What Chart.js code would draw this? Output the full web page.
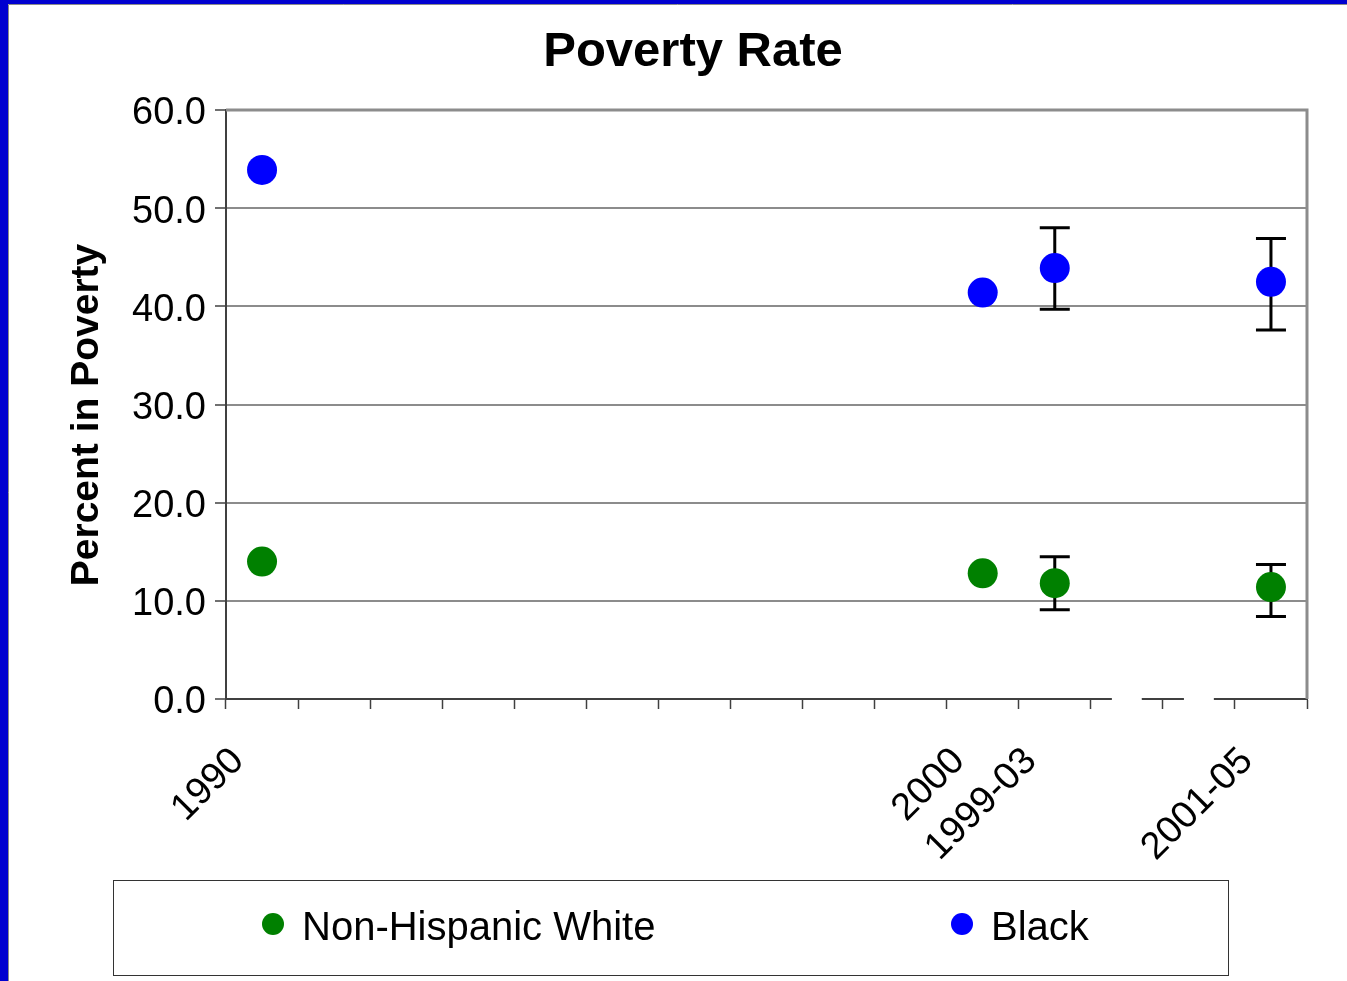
<!DOCTYPE html>
<html>
<head>
<meta charset="utf-8">
<script src="https://cdn.jsdelivr.net/npm/chart.js@4/dist/chart.umd.min.js"></script>
<style>
  html, body { margin: 0; padding: 0; background: #ffffff; overflow: hidden; }
  #wrap { position: absolute; left: 0; top: 0; width: 1347px; height: 981px; }
</style>
</head>
<body>
<div id="wrap"><canvas id="c" width="1347" height="981"></canvas></div>
<script>
// ---- Data ----
const categories = ['1990', '', '', '', '', '', '', '', '', '', '2000', '1999-03', '', '', '2001-05'];
const whiteValues = [14.0, null, null, null, null, null, null, null, null, null, 12.8, 11.8, null, null, 11.4];
const whiteHigh   = [null, null, null, null, null, null, null, null, null, null, null, 14.5, null, null, 13.7];
const whiteLow    = [null, null, null, null, null, null, null, null, null, null, null, 9.1, null, null, 8.4];
const blackValues = [53.9, null, null, null, null, null, null, null, null, null, 41.4, 43.9, null, null, 42.5];
const blackHigh   = [null, null, null, null, null, null, null, null, null, null, null, 48.0, null, null, 46.9];
const blackLow    = [null, null, null, null, null, null, null, null, null, null, null, 39.7, null, null, 37.6];
const hiddenValues = [null, null, null, null, null, null, null, null, null, null, null, null, 0, 0, null];
const yTicks = [0, 10, 20, 30, 40, 50, 60];
const seriesNames = ['Non-Hispanic White', 'Black'];
const titleText = 'Poverty Rate';
const yTitle = 'Percent in Poverty';

const FONT = "'Liberation Sans', Arial, sans-serif";

const framePlugin = {
  id: 'frame',
  beforeDraw(chart) {
    const ctx = chart.ctx;
    ctx.save();
    ctx.fillStyle = '#ffffff';
    ctx.fillRect(0, 0, chart.width, chart.height);
    ctx.fillStyle = '#0000d0';
    ctx.fillRect(0, 0, 8, chart.height);
    ctx.fillRect(0, 0, chart.width, 4);
    ctx.strokeStyle = '#8a8a8a';
    ctx.lineWidth = 1;
    ctx.beginPath();
    ctx.moveTo(8.5, chart.height); ctx.lineTo(8.5, 4.5); ctx.lineTo(chart.width, 4.5);
    ctx.stroke();
    ctx.restore();
  },
  afterDraw(chart) {
    const ctx = chart.ctx;
    const a = chart.chartArea;
    ctx.save();
    // top & right frame of plot area
    ctx.strokeStyle = '#8c8c8c';
    ctx.lineWidth = 3;
    ctx.beginPath();
    ctx.moveTo(a.right, a.bottom); ctx.lineTo(a.right, a.top); ctx.lineTo(a.left, a.top);
    ctx.stroke();
    // title
    ctx.fillStyle = '#000';
    ctx.font = "bold 49px " + FONT;
    ctx.textAlign = 'center';
    ctx.textBaseline = 'alphabetic';
    ctx.fillText(titleText, 693, 66);
    // y axis title
    ctx.save();
    ctx.translate(98, 415);
    ctx.rotate(-Math.PI / 2);
    ctx.font = "bold 39px " + FONT;
    ctx.fillText(yTitle, 0, 0);
    ctx.restore();
    // legend box
    ctx.strokeStyle = '#333';
    ctx.lineWidth = 1;
    ctx.strokeRect(113.5, 880.5, 1115, 95);
    const ds = chart.data.datasets;
    const items = [{x: 273, ds: ds[0]}, {x: 962, ds: ds[1]}];
    ctx.font = "40px " + FONT;
    ctx.textAlign = 'left';
    items.forEach(it => {
      ctx.fillStyle = it.ds.backgroundColor;
      ctx.beginPath();
      ctx.ellipse(it.x, 924, 11, 11, 0, 0, Math.PI * 2);
      ctx.fill();
      ctx.fillStyle = '#000';
      ctx.fillText(it.ds.label, it.x + 29, 940);
    });
    ctx.restore();
  }
};

const errorBarPlugin = {
  id: 'errorBars',
  beforeDatasetsDraw(chart) {
    const ctx = chart.ctx;
    const xs = chart.scales.x, ys = chart.scales.y;
    const sets = [[whiteHigh, whiteLow], [blackHigh, blackLow]];
    ctx.save();
    ctx.strokeStyle = '#000';
    ctx.lineWidth = 3;
    sets.forEach(([hi, lo]) => {
      hi.forEach((h, i) => {
        const l = lo[i];
        if (h == null || l == null) return;
        const x = xs.getPixelForValue(i);
        const yh = ys.getPixelForValue(h), yl = ys.getPixelForValue(l);
        ctx.beginPath();
        ctx.moveTo(x, yh); ctx.lineTo(x, yl);
        ctx.moveTo(x - 15, yh); ctx.lineTo(x + 15, yh);
        ctx.moveTo(x - 15, yl); ctx.lineTo(x + 15, yl);
        ctx.stroke();
      });
    });
    ctx.restore();
  }
};

new Chart(document.getElementById('c'), {
  type: 'line',
  data: {
    labels: categories,
    datasets: [
      { label: seriesNames[0], data: whiteValues, showLine: false, backgroundColor: '#008000', borderColor: '#008000', pointRadius: 15, pointHoverRadius: 15, pointBorderWidth: 0 },
      { label: seriesNames[1], data: blackValues, showLine: false, backgroundColor: '#0000ff', borderColor: '#0000ff', pointRadius: 15, pointHoverRadius: 15, pointBorderWidth: 0 },
      { label: '', data: hiddenValues, showLine: false, backgroundColor: '#ffffff', borderColor: '#ffffff', pointRadius: 15, pointHoverRadius: 15, pointBorderWidth: 0, clip: false }
    ]
  },
  options: {
    responsive: false,
    animation: false,
    events: [],
    layout: { padding: { left: 8, right: 40, top: 110, bottom: 0 } },
    plugins: {
      legend: { display: false },
      title: { display: false },
      tooltip: { enabled: false }
    },
    scales: {
      x: {
        type: 'category',
        offset: true,
        grid: { offset: true, drawOnChartArea: false, drawTicks: true, tickLength: 10, tickColor: '#404040', tickWidth: 1.5 },
        border: { display: true, color: '#404040', width: 2 },
        ticks: {
          autoSkip: false, maxRotation: 45, minRotation: 45,
          color: '#000', font: { family: FONT, size: 38 }, padding: 30, labelOffset: -24
        },
        afterFit(scale) { scale.height = 282; }
      },
      y: {
        min: 0, max: 60,
        afterBuildTicks(scale) { scale.ticks = yTicks.map(v => ({ value: v })); },
        grid: { color: '#8c8c8c', lineWidth: 2, tickLength: 11, tickColor: '#707070', tickWidth: 2 },
        border: { display: true, color: '#404040', width: 2 },
        ticks: {
          color: '#000', font: { family: FONT, size: 38 }, padding: 9, labelOffset: 4,
          callback: v => Number(v).toFixed(1)
        },
        title: { display: false },
        afterFit(scale) { scale.width = 218; }
      }
    }
  },
  plugins: [framePlugin, errorBarPlugin]
});
</script>
</body>
</html>
